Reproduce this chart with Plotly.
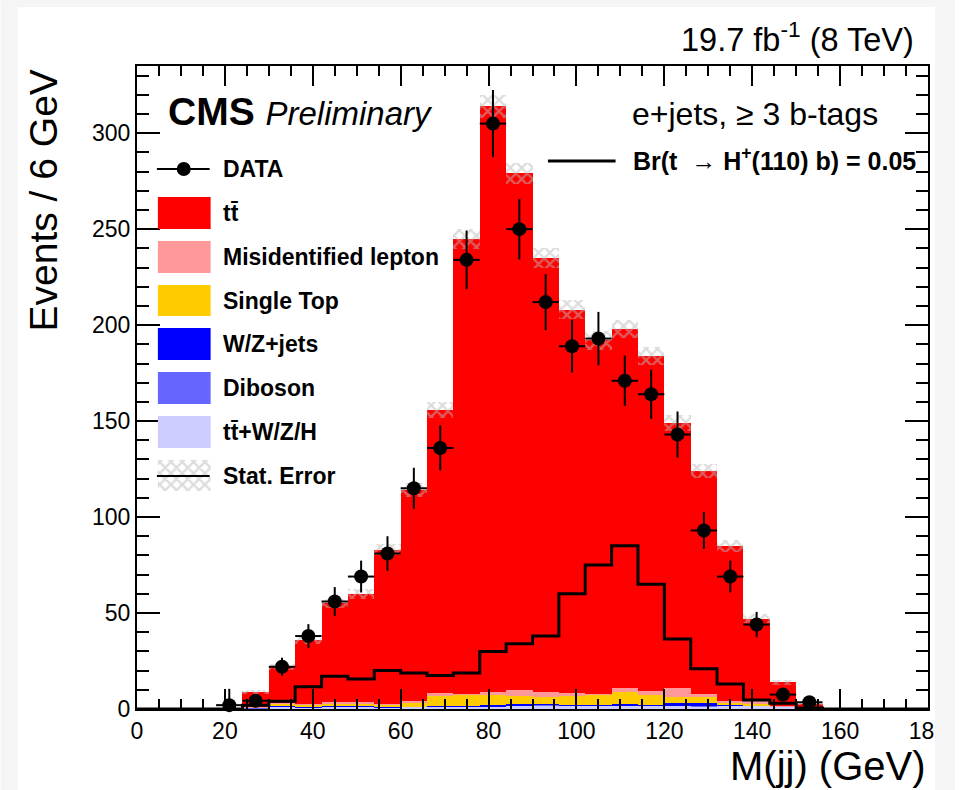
import numpy as np
import plotly.graph_objects as go

# ---------------- data ----------------
bin_edges = list(range(0, 181, 6))                       # 0..180 GeV, 6 GeV bins
bin_centers = [e + 3 for e in bin_edges[:-1]]            # 30 bins

# MC stack components per bin (events / 6 GeV)
ttV      = [0,0,0,0.1,0.5,1.2,0.9,1.3,1.1,0.9,1.1,1.1,1.1,1.3,1.7,1.8,1.8,1.9,1.9,1.8,1.6,1.5,1.8,1.6,1.2,0.3,0,0,0,0]
diboson  = [0,0,0,0,0.05,0.1,0.1,0.1,0.1,0.1,0.1,0.1,0.1,0.1,0.2,0.3,0.1,0.1,0.1,0.1,0.1,0.1,0.1,0.1,0.05,0,0,0,0,0]
wzjets   = [0,0,0,0,0.1,0.1,0.1,0.3,0.5,0.1,0.1,0.5,0.4,0.7,0.7,0.6,0.4,0.3,0.4,0.3,1.6,1.4,0.3,0.1,0,0,0,0,0,0]
singletop= [0,0,0,0,0.3,1.6,1.3,1.2,0.7,1.3,2.0,5.0,5.9,5.0,4.0,3.8,4.7,5.2,6.4,4.9,3.1,3.1,1.2,1.0,0.1,0,0,0,0,0]
misid    = [0,0,0,0,0.2,0.1,0.1,0.7,1.2,0.1,0.7,1.4,0.5,1.7,3.3,2.6,1.1,0.1,2.4,2.3,4.3,1.9,1.0,1.2,0.1,0,0,0,0,0]
ttbar    = [0,0,0,0.2,7.9,18.9,33.5,51.4,56.4,80.5,110.0,147.9,237.0,305.2,269.1,225.9,199.9,184.4,186.8,174.6,138.3,116.0,80.6,43.0,12.5,2.2,0,0,0,0]
stat_err = [0,0,0,0.3,1.0,1.5,2.0,2.5,2.6,3.0,3.6,4.2,5.3,6.0,5.7,5.2,4.9,4.7,4.8,4.6,4.2,3.8,3.1,2.3,1.3,0.6,0,0,0,0]

# signal: Br(t -> H+(110) b) = 0.05
signal   = [0,0,0,0,2,4,11.6,17,15.6,20,18.7,17.4,18.7,30,34,38,60,75,85,65,36.5,21,13,4.7,3,0.5,0,0,0,0]

# data points
data_x   = [21,27,33,39,45,51,57,63,69,75,81,87,93,99,105,111,117,123,129,135,141,147,153]
data_y   = [2,4.3,22,38,56,69,81,115,136,234,305,250,212,189,193,171,164,143,93,69,44,7.5,3.5]
data_eup = [8.5,2.0,4.7,6.2,7.5,8.3,9.0,10.7,11.7,15.3,17.5,15.8,14.6,13.7,13.9,13.1,12.8,12.0,9.6,8.3,6.6,2.7,1.9]
data_edn = [2.0,2.0,4.7,6.2,7.5,8.3,9.0,10.7,11.7,15.3,17.5,15.8,14.6,13.7,13.9,13.1,12.8,12.0,9.6,8.3,6.6,2.7,1.9]

x_ticks = [0, 20, 40, 60, 80, 100, 120, 140, 160, 180]
y_ticks = [0, 50, 100, 150, 200, 250, 300]

# ---------------- layout geometry (page pixels) ----------------
W, H = 959, 790
L, R, T, B = 137, 932, 66, 709            # plot frame in page pixels
FONT = "Liberation Sans, Arial, Helvetica, sans-serif"

def px(x):
    return (x - L) / (R - L)

def py(y):
    return (B - y) / (B - T)

components = [
    ("tt+W/Z/H", ttV, "#ccccff"),
    ("Diboson", diboson, "#6666ff"),
    ("W/Z+jets", wzjets, "#0000ff"),
    ("Single Top", singletop, "#ffcc00"),
    ("Misidentified lepton", misid, "#ff9999"),
    ("ttbar", ttbar, "#ff0000"),
]

fig = go.Figure()

base = np.zeros(len(bin_centers))
for name, vals, col in components:
    v = np.array(vals, dtype=float)
    fig.add_trace(go.Bar(x=bin_centers, y=v, base=base.copy(), width=6,
                         marker=dict(color=col, line=dict(width=0)),
                         name=name, showlegend=False))
    base = base + v
total = base
err = np.array(stat_err, dtype=float)

HATCH = dict(shape="x", fgcolor="#b9b9b9", bgcolor="rgba(0,0,0,0)", size=8,
             solidity=0.5, fillmode="overlay")

# statistical error hatch
fig.add_trace(go.Bar(x=bin_centers, y=2 * err, base=total - err, width=6,
                     marker=dict(color="rgba(0,0,0,0)", line=dict(width=0), pattern=HATCH),
                     showlegend=False))

# signal step line
fig.add_trace(go.Scatter(x=bin_edges, y=signal + [signal[-1]], mode="lines",
                         line=dict(color="black", width=3, shape="hv"),
                         showlegend=False))

# data
fig.add_trace(go.Scatter(x=data_x, y=data_y, mode="markers",
                         marker=dict(color="black", size=14),
                         error_y=dict(type="data", array=data_eup, arrayminus=data_edn,
                                      symmetric=False, thickness=2, width=0, color="black"),
                         error_x=dict(type="constant", value=3, thickness=2, width=0, color="black"),
                         showlegend=False, cliponaxis=False))

# legend hatch box via hidden overlay axes in page-pixel units
hx = [158, 211, 211, 158, 158]
hy = [460, 460, 491, 491, 460]
fig.add_trace(go.Scatter(x=hx, y=hy, xaxis="x2", yaxis="y2", mode="lines",
                         line=dict(width=0, color="rgba(0,0,0,0)"), fill="toself",
                         fillcolor="rgba(0,0,0,0)", fillpattern=HATCH,
                         showlegend=False, hoverinfo="skip"))

shapes = []
annotations = []

# page grey border strips
GREY = "#f5f5f5"
shapes.append(dict(type="rect", xref="paper", yref="paper", x0=px(0), x1=px(17), y0=py(H), y1=py(0),
                   fillcolor=GREY, line=dict(width=0), layer="below"))
shapes.append(dict(type="rect", xref="paper", yref="paper", x0=px(0), x1=px(W), y0=py(7), y1=py(0),
                   fillcolor=GREY, line=dict(width=0), layer="below"))
shapes.append(dict(type="rect", xref="paper", yref="paper", x0=px(939), x1=px(W), y0=py(H), y1=py(0),
                   fillcolor=GREY, line=dict(width=0), layer="above"))

# legend glyphs
shapes.append(dict(type="line", xref="paper", yref="paper", x0=px(157), x1=px(210), y0=py(169), y1=py(169),
                   line=dict(color="black", width=2)))
shapes.append(dict(type="circle", xref="paper", yref="paper", xsizemode="pixel", ysizemode="pixel",
                   xanchor=px(184), yanchor=py(169), x0=-7, x1=7, y0=-7, y1=7,
                   fillcolor="black", line=dict(color="black", width=0)))
box_rows = [(197, 229, "#ff0000"), (241, 273, "#ff9999"), (285, 316, "#ffcc00"),
            (328, 360, "#0000ff"), (372, 404, "#6666ff"), (416, 448, "#ccccff")]
for y0, y1, col in box_rows:
    shapes.append(dict(type="rect", xref="paper", yref="paper", x0=px(158), x1=px(211),
                       y0=py(y1), y1=py(y0), fillcolor=col, line=dict(width=0)))
shapes.append(dict(type="line", xref="paper", yref="paper", x0=px(157), x1=px(210), y0=py(476), y1=py(476),
                   line=dict(color="black", width=2)))

legend_labels = [("DATA", 169), ("tt\u0304", 213), ("Misidentified lepton", 257), ("Single Top", 301),
                 ("W/Z+jets", 344), ("Diboson", 388), ("tt\u0304+W/Z/H", 432), ("Stat. Error", 476)]
for txt, yc in legend_labels:
    annotations.append(dict(text="<b>" + txt + "</b>", xref="paper", yref="paper", x=px(221), y=py(yc),
                            xanchor="left", yanchor="middle", showarrow=False,
                            font=dict(family=FONT, size=23, color="black")))

# signal legend
shapes.append(dict(type="line", xref="paper", yref="paper", x0=px(550), x1=px(618), y0=py(161), y1=py(161),
                   line=dict(color="black", width=3)))
annotations.append(dict(text="<b>Br(t  \u2192 H<sup>+</sup>(110) b) = 0.05</b>", xref="paper", yref="paper",
                        x=px(634), y=py(159), xanchor="left", yanchor="middle", showarrow=False,
                        font=dict(family=FONT, size=25, color="black")))

# header texts
annotations.append(dict(text="<b>CMS</b> <span style='font-size:33px'><i>Preliminary</i></span>",
                        xref="paper", yref="paper", x=px(166), y=py(112), xanchor="left", yanchor="middle",
                        showarrow=False, font=dict(family=FONT, size=39, color="black")))
annotations.append(dict(text="e+jets, \u2265 3 b-tags", xref="paper", yref="paper", x=px(884), y=py(114),
                        xanchor="right", yanchor="middle", showarrow=False,
                        font=dict(family=FONT, size=32, color="black")))
annotations.append(dict(text="19.7 fb<sup>-1</sup> (8 TeV)", xref="paper", yref="paper", x=px(920), y=py(37),
                        xanchor="right", yanchor="middle", showarrow=False,
                        font=dict(family=FONT, size=32.5, color="black")))
# axis titles
annotations.append(dict(text="M(jj) (GeV)", xref="paper", yref="paper", x=px(932), y=py(766),
                        xanchor="right", yanchor="middle", showarrow=False,
                        font=dict(family=FONT, size=40, color="black")))
annotations.append(dict(text="Events / 6 GeV", xref="paper", yref="paper", x=px(44), y=py(200),
                        xanchor="center", yanchor="middle", showarrow=False, textangle=-90,
                        font=dict(family=FONT, size=39, color="black")))

axis_common = dict(showgrid=False, zeroline=False, showline=True, linecolor="black", linewidth=2,
                   mirror="allticks", ticks="inside", tickcolor="black", tickwidth=2,
                   ticklabeloverflow="allow",
                   tickfont=dict(family=FONT, size=23, color="black"))

fig.update_layout(
    width=W, height=H,
    margin=dict(l=L, r=W - R, t=T, b=H - B, pad=0),
    paper_bgcolor="white", plot_bgcolor="white",
    barmode="overlay", bargap=0,
    showlegend=False,
    hovermode=False,
    xaxis=dict(range=[0, 180], tickvals=x_ticks, ticklen=20,
               minor=dict(dtick=5, tick0=0, ticklen=10, tickwidth=1.5, ticks="inside", tickcolor="black"),
               **axis_common),
    yaxis=dict(range=[0, 335], tickvals=y_ticks, ticklen=23,
               minor=dict(dtick=10, tick0=0, ticklen=12, tickwidth=1.5, ticks="inside", tickcolor="black"),
               **axis_common),
    xaxis2=dict(range=[L, R], overlaying="x", anchor="y2", visible=False, fixedrange=True),
    yaxis2=dict(range=[B, T], overlaying="y", anchor="x2", visible=False, fixedrange=True),
    shapes=shapes,
    annotations=annotations,
)

# place the figure at the page origin (no default body margin, no scrollbars)
fig.write_html("out.html", config={"displayModeBar": False},
               post_script="document.body.style.margin='0';document.body.style.overflow='hidden';")
